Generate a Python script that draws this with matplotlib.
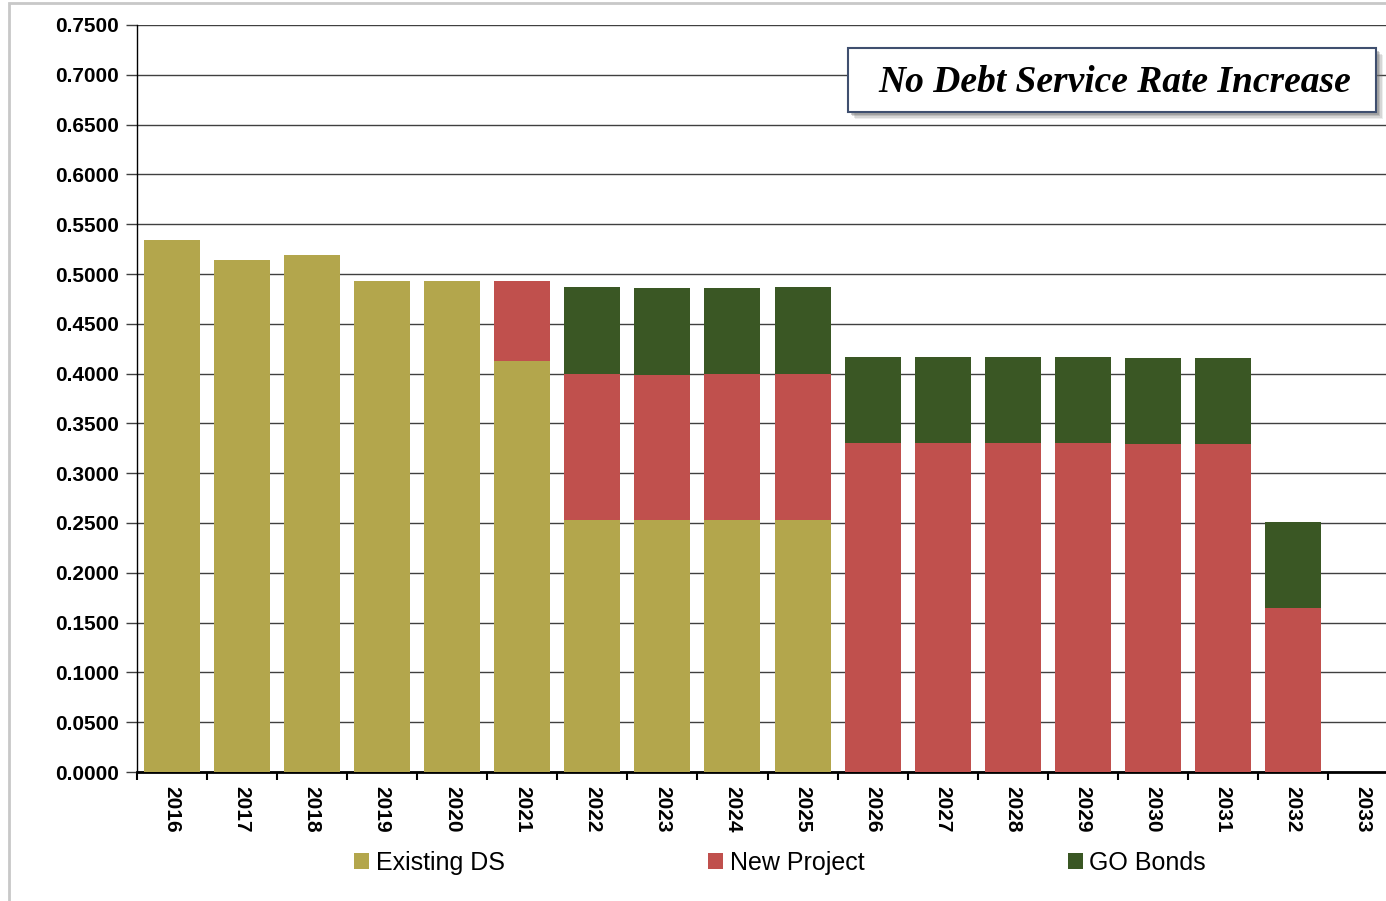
import matplotlib
matplotlib.use("Agg")
import matplotlib.pyplot as plt
from matplotlib.patches import Rectangle
import numpy as np

years = ["2016", "2017", "2018", "2019", "2020", "2021", "2022", "2023", "2024",
         "2025", "2026", "2027", "2028", "2029", "2030", "2031", "2032", "2033"]
existing_ds = [0.534, 0.514, 0.519, 0.493, 0.493, 0.413, 0.253, 0.253, 0.253,
               0.253, 0.0, 0.0, 0.0, 0.0, 0.0, 0.0, 0.0, 0.0]
new_project = [0.0, 0.0, 0.0, 0.0, 0.0, 0.080, 0.147, 0.146, 0.147,
               0.147, 0.330, 0.330, 0.330, 0.330, 0.3295, 0.329, 0.165, 0.0]
go_bonds = [0.0, 0.0, 0.0, 0.0, 0.0, 0.0, 0.087, 0.0865, 0.086,
            0.087, 0.087, 0.087, 0.087, 0.087, 0.0865, 0.087, 0.086, 0.0]
series_names = ["Existing DS", "New Project", "GO Bonds"]
colors = ["#B3A64C", "#C0504D", "#3A5724"]
title_text = "No Debt Service Rate Increase"

W, H = 1386, 901
fig = plt.figure(figsize=(W / 100, H / 100), dpi=100)
ax = fig.add_axes([137 / W, 1 - 772 / H, (1398 - 137) / W, (772 - 25) / H])

x = np.arange(len(years))
bottom = np.zeros(len(years))
handles = []
for vals, c, name in zip([existing_ds, new_project, go_bonds], colors, series_names):
    v = np.array(vals)
    b = ax.bar(x, v, width=0.8, bottom=bottom, color=c, label=name, zorder=3,
               edgecolor="none")
    handles.append(b)
    bottom += v

ax.set_xlim(-0.5, len(years) - 0.5)
ax.set_ylim(0, 0.75)
ax.set_yticks(np.arange(0, 0.7501, 0.05))
ax.set_yticklabels([f"{t:.4f}" for t in np.arange(0, 0.7501, 0.05)],
                   fontsize=15, fontweight="bold", family="Liberation Sans")
ax.yaxis.grid(True, color="#404040", linewidth=1.0, zorder=0)
ax.set_axisbelow(True)

ax.set_xticks(x)
ax.set_xticklabels(years, rotation=-90, fontsize=15, fontweight="bold",
                   family="Liberation Sans")
ax.tick_params(axis="x", which="major", length=0, pad=10)
ax.set_xticks(np.arange(-0.5, len(years), 1.0), minor=True)
ax.tick_params(axis="x", which="minor", length=6, width=1.5, direction="out", color="black")
ax.tick_params(axis="y", length=8, width=1, direction="out", color="#404040", pad=5)

for s in ["top", "right"]:
    ax.spines[s].set_visible(False)
ax.spines["left"].set_color("black")
ax.spines["left"].set_linewidth(1.0)
ax.spines["bottom"].set_color("black")
ax.spines["bottom"].set_linewidth(2.0)

# title box with shadow
bx0, by0, bx1, by1 = 848, 48, 1376, 112
for i, a in enumerate([0.12, 0.18, 0.25, 0.35]):
    off = 7 - i * 1.5
    fig.patches.append(Rectangle((bx0 + off, H - by1 - off), bx1 - bx0, by1 - by0,
                                 transform=None, facecolor="#707070", edgecolor="none",
                                 alpha=a, zorder=9))
box = Rectangle((bx0, H - by1), bx1 - bx0, by1 - by0, transform=None,
                facecolor="white", edgecolor="#3F4F6F", linewidth=1.5, zorder=10)
fig.patches.append(box)
fig.text((bx0 + bx1) / 2 / W + 3 / W, 1 - 82 / H, title_text, ha="center", va="center",
         fontsize=27, fontweight="bold", fontstyle="italic", family="Liberation Serif",
         zorder=11)

# outer frame
frame = Rectangle((9, -10), W + 20, H - 3 + 10, transform=None, facecolor="none",
                  edgecolor="#C8C8C8", linewidth=2, zorder=0)
fig.patches.append(frame)

leg = fig.legend(handles, series_names, loc="center", bbox_to_anchor=(780 / W, 1 - 863 / H),
                 ncol=3, frameon=False, handlelength=0.6, handleheight=0.6,
                 handletextpad=0.25, columnspacing=8.15,
                 prop={"family": "Liberation Sans", "size": 18})

fig.savefig("out.png", dpi=100)
